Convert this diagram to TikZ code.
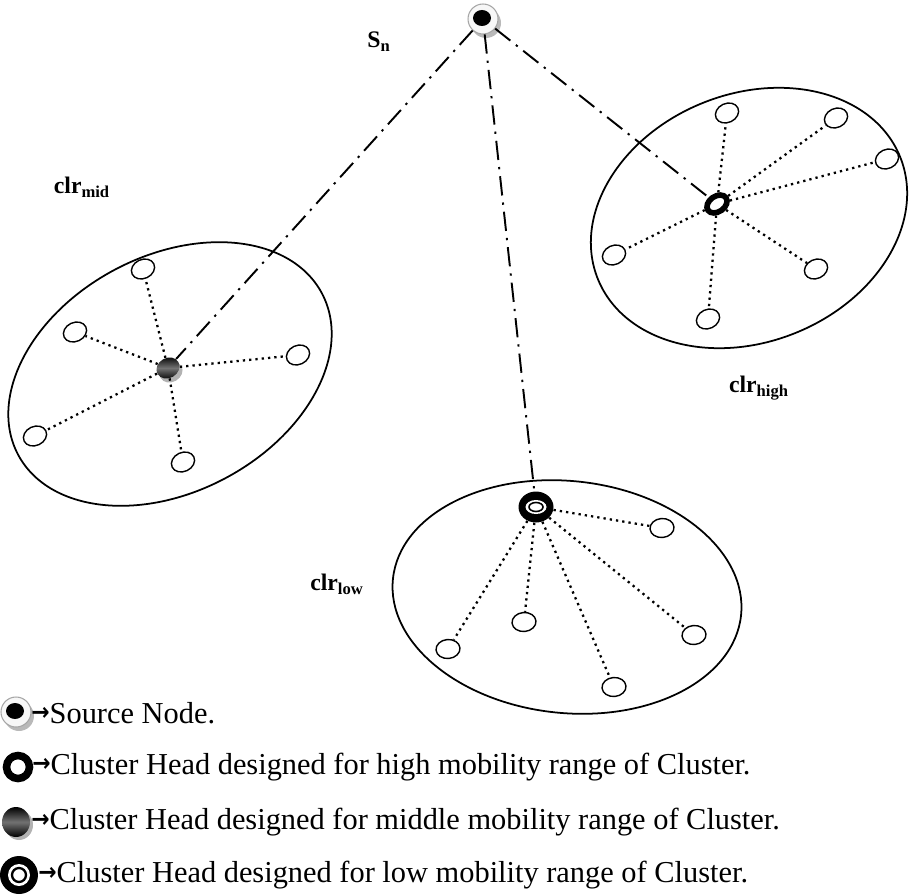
\documentclass[tikz,border=0pt]{standalone}
\usepackage{fontspec}
\setmainfont{Liberation Serif}
\newfontfamily\arrowfont{DejaVu Sans}
\usetikzlibrary{shapes.geometric}
\newcommand{\legarrow}{\raisebox{0.08em}{\scalebox{0.72}[0.8]{\arrowfont\bfseries →}}}
\begin{document}
\begin{tikzpicture}[x=0.02cm,y=-0.02cm,
  member/.style={ellipse, draw, line width=0.8pt, fill=white, minimum width=0.48cm, minimum height=0.38cm, inner sep=0pt},
  link/.style={line width=1.3pt, dash pattern=on 1.3pt off 2.3pt},
  uplink/.style={line width=1.1pt, dash pattern=on 11pt off 4pt on 1.3pt off 4pt},
  clusterline/.style={line width=1pt},
  highch/.style={ellipse, draw, line width=3.2pt, fill=white, minimum width=0.44cm, minimum height=0.31cm, inner sep=0pt},
  midch/.style={ellipse, top color=black, bottom color=black, middle color=black!55, minimum width=0.48cm, minimum height=0.4cm, inner sep=0pt},
  lowch/.style={ellipse, fill=black, minimum width=0.7cm, minimum height=0.62cm, inner sep=0pt},
  srcnode/.style={ellipse, draw=gray!70, line width=0.6pt, fill=gray!6, minimum width=0.6cm, minimum height=0.6cm, inner sep=0pt},
  lbl/.style={font=\fontsize{13.5}{16}\selectfont\bfseries, inner sep=0pt},
  legendtext/.style={font=\fontsize{17.3}{21}\selectfont, anchor=west, inner sep=0pt},
]
\useasboundingbox (0,0) rectangle (915,895);

% ---------- cluster outlines
\draw[clusterline, rotate around={22:(749,218)}] (749,218) ellipse [x radius=163, y radius=124];
\draw[clusterline, rotate around={28:(170,374)}] (170,374) ellipse [x radius=172, y radius=118];
\draw[clusterline, rotate around={-6:(567,597)}] (567,597) ellipse [x radius=175, y radius=116];

% ---------- source node
\fill[gray!55] (486,23) ellipse [x radius=15, y radius=15];
\node[srcnode] (src) at (483,19) {};
\fill[black] (482,18) ellipse [x radius=9, y radius=8];
\node[lbl] (sn) at (379,42) {S\textsubscript{n}};

% ---------- high cluster
\node[highch, rotate=35] (hc) at (717,204) {};
\node[member, rotate=25] (h1) at (727,113) {};
\node[member, rotate=25] (h2) at (836,118) {};
\node[member, rotate=25] (h3) at (887,159) {};
\node[member, rotate=25] (h4) at (614,255) {};
\node[member, rotate=25] (h5) at (816,269) {};
\node[member, rotate=25] (h6) at (708,319) {};
\foreach \m in {h1,h2,h3,h4,h5,h6} \draw[link] (hc) -- (\m);
\node[lbl] (lhigh) at (759,388) {clr\textsubscript{high}};

% ---------- mid cluster
\fill[gray!60, rotate around={30:(171,372)}] (171,372) ellipse [x radius=12, y radius=10];
\node[midch, rotate=30] (mc) at (168,368) {};
\node[member, rotate=25] (m1) at (143,269) {};
\node[member, rotate=25] (m2) at (75,332) {};
\node[member, rotate=25] (m3) at (298,355) {};
\node[member, rotate=25] (m4) at (35,436) {};
\node[member, rotate=25] (m5) at (183,462) {};
\foreach \m in {m1,m2,m3,m4,m5} \draw[link] (mc) -- (\m);
\node[lbl] (lmid) at (82,187) {clr\textsubscript{mid}};

% ---------- low cluster
\node[lowch] (lc) at (536,507) {};
\fill[white] (536,507) ellipse [x radius=10.5, y radius=7];
\draw[line width=0.9pt] (536,507) ellipse [x radius=7, y radius=4.5];
\node[member, rotate=5] (l1) at (662,528) {};
\node[member, rotate=5] (l2) at (524,622) {};
\node[member, rotate=5] (l3) at (448,649) {};
\node[member, rotate=5] (l4) at (694,635) {};
\node[member, rotate=5] (l5) at (614,687) {};
\foreach \m in {l1,l2,l3,l4,l5} \draw[link] (lc) -- (\m);
\node[lbl] (llow) at (337,584) {clr\textsubscript{low}};

% ---------- links from the source
\draw[uplink] (src) -- (hc);
\draw[uplink] (src) -- (mc);
\draw[uplink] (src) -- (lc);

% ---------- legend
\fill[gray!55] (19,716) ellipse [x radius=15, y radius=15];
\node[srcnode] (k1) at (16,712) {};
\fill[black] (15,711) ellipse [x radius=9, y radius=8];
\node[legendtext] (t1) at (31,713) {\legarrow Source Node.};

\node[ellipse, draw, line width=4.3pt, minimum width=0.46cm, minimum height=0.46cm, inner sep=0pt] (k2) at (18,767) {};
\node[legendtext] (t2) at (32,767) {\legarrow Cluster Head designed for high mobility range of Cluster.};

\fill[gray!60] (19,825) ellipse [x radius=14, y radius=15];
\node[midch, minimum width=0.56cm, minimum height=0.6cm] (k3) at (16,822) {};
\node[legendtext] (t3) at (31,822) {\legarrow Cluster Head designed for middle mobility range of Cluster.};

\node[ellipse, fill=black, minimum width=0.76cm, minimum height=0.76cm, inner sep=0pt] (k4) at (19,875) {};
\fill[white] (19,875) ellipse [x radius=11, y radius=11];
\draw[line width=1.3pt] (19,875) ellipse [x radius=7, y radius=7];
\node[legendtext] (t4) at (38,875) {\legarrow Cluster Head designed for low mobility range of Cluster.};
\end{tikzpicture}
\end{document}
